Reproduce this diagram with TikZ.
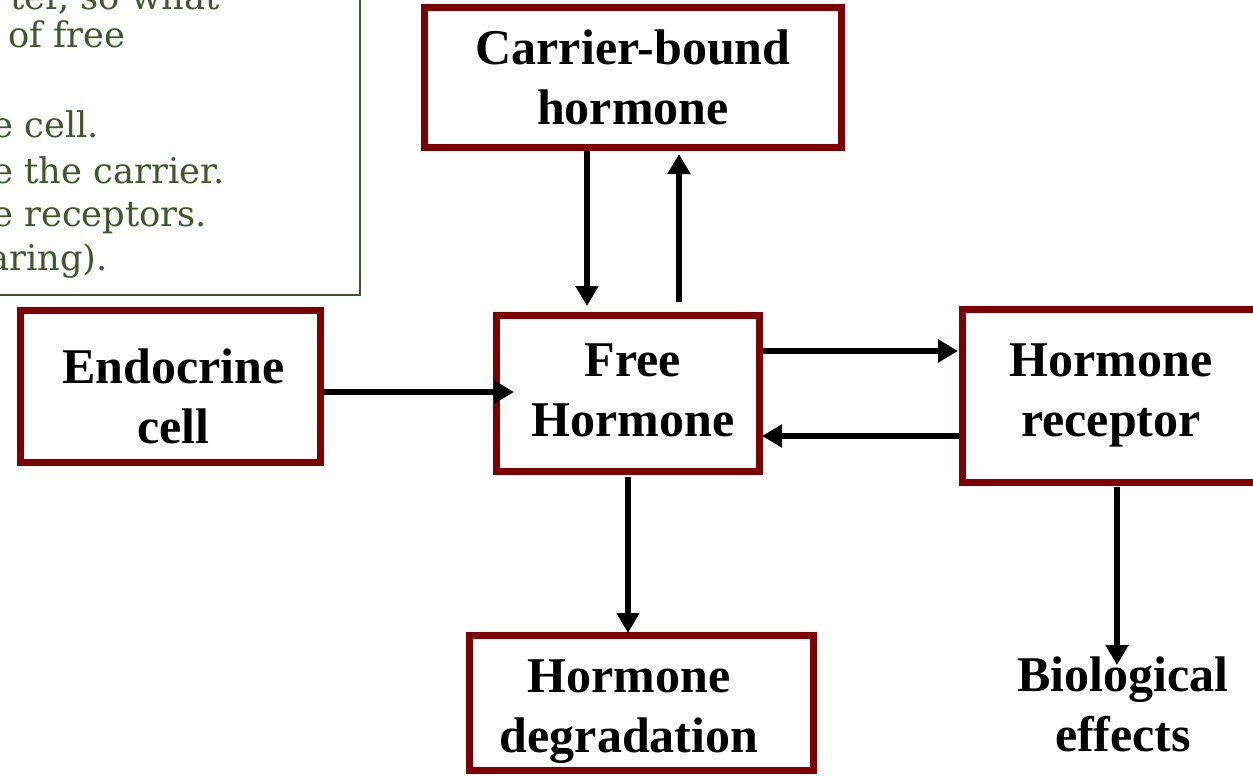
\documentclass[tikz,border=0pt]{standalone}
\usepackage{fontspec}
\setmainfont{Liberation Serif}
\newfontfamily\notefont{DejaVu Serif}
\usetikzlibrary{arrows.meta}
\definecolor{boxred}{HTML}{7F0000}
\definecolor{notegreen}{HTML}{3C5A28}
\tikzset{
  hbox/.style={draw=boxred, line width=5.25pt, fill=white, inner sep=0pt},
  htext/.style={align=center, font=\bfseries\fontsize{37.5}{45}\selectfont, inner sep=0pt},
  conn/.style={line width=4.5pt, -{Triangle[length=15pt,width=16.5pt]}},
  note/.style={anchor=base west, text=notegreen, inner sep=0pt,
    font=\notefont\fontsize{26.5}{30}\selectfont}
}
\begin{document}
\begin{tikzpicture}[x=0.75pt,y=-0.75pt]
\useasboundingbox (0,0) rectangle (1253,775);
\clip (0,0) rectangle (1253,775);
% note box (cut off at the picture's edge)
\draw[draw=notegreen, line width=1.2pt, fill=white] (-20,-20) rectangle (360,295);
\node[note] (n1) at (10,9) {ter, so what};
\node[note] (n2) at (8,47) {of free};
\node[note] (n3) at (-8,137) {e cell.};
\node[note] (n4) at (-8,183) {e the carrier.};
\node[note] (n5) at (-8,226) {e receptors.};
\node[note] (n6) at (-12,270) {aring).};
% boxes
\node[hbox, minimum width=417*0.75pt, minimum height=140*0.75pt] (carrier) at (633,77.5) {};
\node[hbox, minimum width=300*0.75pt, minimum height=152*0.75pt] (endo) at (170.5,386.5) {};
\node[hbox, minimum width=263*0.75pt, minimum height=156*0.75pt] (free) at (628,393.5) {};
\node[hbox, minimum width=298*0.75pt, minimum height=173.5*0.75pt] (recep) at (1111.5,395.75) {};
\node[hbox, minimum width=344*0.75pt, minimum height=134.5*0.75pt] (degr) at (641.5,703) {};
% labels
\node[htext] (carriert) at (633,77.5) {Carrier-bound\\hormone};
\node[htext] (endot) at (173.5,396.5) {Endocrine\\cell};
\node[htext] (freet) at (633,390.5) {Free\\Hormone};
\node[htext] (recept) at (1111,395.75) {Hormone\\receptor};
\node[htext] (degrt) at (629,712) {Hormone\\degradation};
\node[htext] (bio) at (1123,704) {Biological\\effects};
% connector end points
\coordinate (c1) at (587,151);
\coordinate (c1e) at (587,306);
\coordinate (c2) at (679,302);
\coordinate (c2e) at (679,154);
\coordinate (e1) at (324,392);
\coordinate (e1e) at (514,392);
\coordinate (f1) at (763,351);
\coordinate (f1e) at (958,351);
\coordinate (r1) at (959,436);
\coordinate (r1e) at (762,436);
\coordinate (d1) at (628,477);
\coordinate (d1e) at (628,633);
\coordinate (b1) at (1117,487);
\coordinate (b1e) at (1117,665);
% connectors
\draw[conn] (c1) -- (c1e);
\draw[conn] (c2) -- (c2e);
\draw[conn] (e1) -- (e1e);
\draw[conn] (f1) -- (f1e);
\draw[conn] (r1) -- (r1e);
\draw[conn] (d1) -- (d1e);
\draw[conn] (b1) -- (b1e);
\end{tikzpicture}
\end{document}
